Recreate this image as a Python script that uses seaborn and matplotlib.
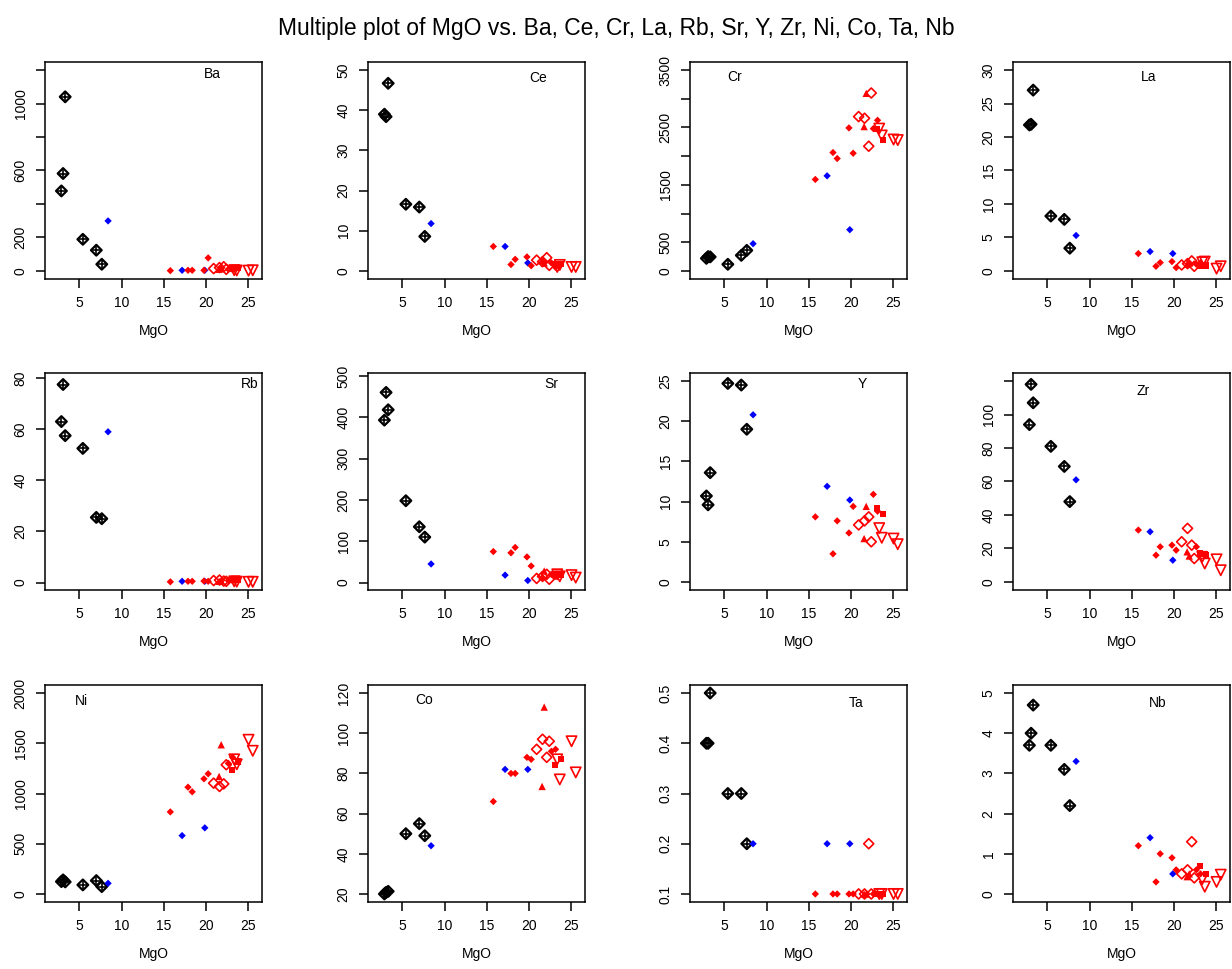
import numpy as np
import pandas as pd
import matplotlib
matplotlib.use("Agg")
import matplotlib.pyplot as plt
import seaborn as sns

# ---- sample groups: MgO (wt%) ----
mgo_black = [2.85, 3.05, 3.3, 5.4, 7.0, 7.65]
mgo_blue = [8.4, 17.2, 19.9]
mgo_red_dia = [15.8, 17.9, 18.4, 19.8, 20.3, 22.7, 23.2]
mgo_red_open = [20.95, 21.65, 22.15, 22.45]
mgo_red_tri = [21.6, 21.85]
mgo_red_sq = [23.1, 23.8]
mgo_red_dtri = [23.4, 23.7, 25.1, 25.6]

# ---- trace elements (ppm), same order as the MgO lists ----
Ba = {
    "black": [478, 582, 1040, 189, 124, 40],
    "blue": [299, 4, 4],
    "red_dia": [2, 4, 4, 4, 78, 10, 8],
    "red_open": [14, 20, 25, 10],
    "red_tri": [10, 20],
    "red_sq": [15, 18],
    "red_dtri": [5, 3, 2, 4],
}
Ce = {
    "black": [39.0, 38.4, 46.7, 16.6, 15.9, 8.6],
    "blue": [11.8, 6.1, 2.0],
    "red_dia": [6.1, 1.6, 2.9, 3.5, 1.3, 2.0, 0.9],
    "red_open": [2.7, 2.3, 3.3, 1.4],
    "red_tri": [2.5, 2.0],
    "red_sq": [1.8, 1.7],
    "red_dtri": [1.0, 1.5, 1.0, 1.0],
}
Cr = {
    "black": [220, 250, 245, 116, 272, 359],
    "blue": [475, 1657, 719],
    "red_dia": [1594, 2063, 1959, 2492, 2051, 2480, 2625],
    "red_open": [2689, 2660, 2173, 3100],
    "red_tri": [2515, 3094],
    "red_sq": [2474, 2283],
    "red_dtri": [2480, 2360, 2290, 2280],
}
La = {
    "black": [21.8, 21.9, 27.0, 8.2, 7.7, 3.4],
    "blue": [5.3, 2.9, 2.6],
    "red_dia": [2.6, 0.7, 1.25, 1.4, 0.5, 1.0, 1.2],
    "red_open": [0.9, 1.1, 1.5, 0.7],
    "red_tri": [1.0, 1.2],
    "red_sq": [0.8, 0.8],
    "red_dtri": [1.3, 1.4, 0.35, 0.7],
}
Rb = {
    "black": [63.0, 77.5, 57.5, 52.5, 25.5, 25.0],
    "blue": [59.0, 0.5, 0.5],
    "red_dia": [0.3, 0.5, 0.5, 0.6, 0.5, 0.8, 0.7],
    "red_open": [0.8, 1.0, 0.6, 0.5],
    "red_tri": [0.5, 0.8],
    "red_sq": [1.2, 1.0],
    "red_dtri": [0.5, 0.4, 0.3, 0.3],
}
Sr = {
    "black": [393, 460, 418, 198, 135, 110],
    "blue": [45, 18, 5],
    "red_dia": [75, 72, 85, 62, 40, 20, 15],
    "red_open": [10, 15, 20, 8],
    "red_tri": [15, 28],
    "red_sq": [20, 18],
    "red_dtri": [20, 15, 18, 12],
}
Y = {
    "black": [10.7, 9.6, 13.6, 24.7, 24.5, 19.0],
    "blue": [20.8, 11.9, 10.2],
    "red_dia": [8.1, 3.5, 7.6, 6.1, 9.4, 10.9, 8.8],
    "red_open": [7.1, 7.6, 8.1, 5.0],
    "red_tri": [5.4, 9.4],
    "red_sq": [9.2, 8.5],
    "red_dtri": [6.7, 5.5, 5.4, 4.7],
}
Zr = {
    "black": [94, 118, 107, 81, 69, 48],
    "blue": [61, 30, 13],
    "red_dia": [31, 16, 21, 22, 19, 21, 17],
    "red_open": [24, 32, 22, 14],
    "red_tri": [18, 15.5],
    "red_sq": [17, 16],
    "red_dtri": [15, 11, 13.5, 7],
}
Ni = {
    "black": [123, 140, 120, 90, 133, 73],
    "blue": [106, 581, 658],
    "red_dia": [817, 1063, 1017, 1146, 1196, 1300, 1362],
    "red_open": [1103, 1070, 1096, 1286],
    "red_tri": [1170, 1485],
    "red_sq": [1236, 1319],
    "red_dtri": [1340, 1290, 1535, 1425],
}
Co = {
    "black": [20.0, 20.8, 21.3, 50.0, 55.0, 49.0],
    "blue": [44, 82, 82],
    "red_dia": [66, 80, 80, 88, 87, 91, 92],
    "red_open": [92, 97, 88, 96],
    "red_tri": [73.5, 113],
    "red_sq": [84, 87],
    "red_dtri": [87, 77, 96, 80.5],
}
Ta = {
    "black": [0.4, 0.4, 0.5, 0.3, 0.3, 0.2],
    "blue": [0.2, 0.2, 0.2],
    "red_dia": [0.1, 0.1, 0.1, 0.1, 0.1, 0.1, 0.1],
    "red_open": [0.1, 0.1, 0.2, 0.1],
    "red_tri": [0.1, 0.1],
    "red_sq": [0.1, 0.1],
    "red_dtri": [0.1, 0.1, 0.1, 0.1],
}
Nb = {
    "black": [3.7, 4.0, 4.7, 3.7, 3.1, 2.2],
    "blue": [3.3, 1.4, 0.5],
    "red_dia": [1.2, 0.3, 1.0, 0.9, 0.6, 0.6, 0.5],
    "red_open": [0.5, 0.6, 1.3, 0.4],
    "red_tri": [0.43, 0.5],
    "red_sq": [0.7, 0.5],
    "red_dtri": [0.37, 0.18, 0.3, 0.48],
}

elements = ["Ba", "Ce", "Cr", "La", "Rb", "Sr", "Y", "Zr", "Ni", "Co", "Ta", "Nb"]
element_data = dict(Ba=Ba, Ce=Ce, Cr=Cr, La=La, Rb=Rb, Sr=Sr,
                    Y=Y, Zr=Zr, Ni=Ni, Co=Co, Ta=Ta, Nb=Nb)
group_mgo = {
    "black": mgo_black, "blue": mgo_blue, "red_dia": mgo_red_dia,
    "red_open": mgo_red_open, "red_tri": mgo_red_tri,
    "red_sq": mgo_red_sq, "red_dtri": mgo_red_dtri,
}

# long table: one row per sample
rows = []
for g, mg in group_mgo.items():
    for i, m in enumerate(mg):
        r = {"group": g, "MgO": m}
        for el in elements:
            r[el] = element_data[el][g][i]
        rows.append(r)
df = pd.DataFrame(rows)

# ---- per-panel axis settings: (ylim, ticks, labelled ticks, label position) ----
panel_cfg = {
    "Ba": ((-48, 1248), np.arange(0, 1201, 200), [0, 200, 600, 1000], (0.77, 0.945)),
    "Ce": ((-2, 52), np.arange(0, 51, 10), None, (0.785, 0.925)),
    "Cr": ((-140, 3640), np.arange(0, 3501, 500), [0, 500, 1500, 2500, 3500], (0.206, 0.932)),
    "La": ((-1.2, 31.2), np.arange(0, 31, 5), None, (0.627, 0.93)),
    "Rb": ((-2.9, 82), np.arange(0, 81, 20), None, (0.945, 0.95)),
    "Sr": ((-18, 507), np.arange(0, 501, 100), None, (0.847, 0.95)),
    "Y": ((-1, 26), np.arange(0, 26, 5), None, (0.795, 0.948)),
    "Zr": ((-4.8, 124.8), np.arange(0, 121, 20), [0, 20, 40, 60, 80, 100], (0.598, 0.915)),
    "Ni": ((-80, 2080), np.arange(0, 2001, 500), None, (0.166, 0.928)),
    "Co": ((16, 124), np.arange(20, 121, 20), None, (0.259, 0.931)),
    "Ta": ((0.084, 0.516), np.round(np.arange(0.1, 0.51, 0.1), 1), None, (0.765, 0.918)),
    "Nb": ((-0.2, 5.2), np.arange(0, 6, 1), None, (0.667, 0.916)),
}

RED = "#FF0000"
BLUE = "#0000FF"
styles = [
    ("black", dict(marker="D", s=30, facecolor="none", edgecolor="black", linewidth=1.6)),
    ("black", dict(marker="+", s=58, color="black", linewidth=1.2)),
    ("blue", dict(marker="D", s=14, color=BLUE, edgecolor="none", linewidth=0)),
    ("red_dia", dict(marker="D", s=14, color=RED, edgecolor="none", linewidth=0)),
    ("red_open", dict(marker="D", s=26, facecolor="none", edgecolor=RED, linewidth=1.2)),
    ("red_tri", dict(marker="^", s=28, color=RED, edgecolor="none", linewidth=0)),
    ("red_sq", dict(marker="s", s=20, color=RED, edgecolor="none", linewidth=0)),
    ("red_dtri", dict(marker="v", s=55, facecolor="none", edgecolor=RED, linewidth=1.2)),
]

sns.set_style("ticks")
plt.rcParams["font.family"] = ["Liberation Sans", "DejaVu Sans"]
plt.rcParams["text.color"] = "black"
plt.rcParams["axes.labelcolor"] = "black"

W, H = 1232, 969
fig = plt.figure(figsize=(W / 100, H / 100), dpi=100)

col_left = [45, 368, 690, 1013]
row_top = [62, 373, 685]
box = 217

for k, el in enumerate(elements):
    r, c = divmod(k, 4)
    ax = fig.add_axes([col_left[c] / W, 1 - (row_top[r] + box) / H, box / W, box / H])
    for g, kw in styles:
        sns.scatterplot(data=df[df["group"] == g], x="MgO", y=el, ax=ax,
                        legend=False, zorder=3, clip_on=False, **kw)
    ylim, ticks, labelled, (lx, ly) = panel_cfg[el]
    ax.set_xlim(0.9, 26.7)
    ax.set_ylim(*ylim)
    ax.set_xticks([5, 10, 15, 20, 25])
    ax.set_yticks(ticks)
    if labelled is None:
        labelled = list(ticks)
    labs = []
    for t in ticks:
        if any(np.isclose(t, l) for l in labelled):
            labs.append(f"{t:g}")
        else:
            labs.append("")
    ax.set_yticklabels(labs, rotation=90, va="center")
    for sp in ax.spines.values():
        sp.set_visible(True)
        sp.set_linewidth(1.1)
        sp.set_color("black")
    ax.tick_params(axis="both", direction="out", length=6.5, width=1.1,
                   labelsize=10, colors="black")
    ax.tick_params(axis="x", pad=6)
    ax.tick_params(axis="y", pad=6)
    ax.set_xlabel("MgO", fontsize=10, va="center", color="black")
    ax.xaxis.set_label_coords(0.5, -0.24)
    ax.set_ylabel("")
    ax.text(lx, ly, el, transform=ax.transAxes, ha="center", va="center",
            fontsize=10, color="black")

fig.suptitle("Multiple plot of MgO vs. Ba, Ce, Cr, La, Rb, Sr, Y, Zr, Ni, Co, Ta, Nb",
             x=0.5, y=1 - 28 / H, va="center", fontsize=16.5, color="black")

fig.savefig("out.png", dpi=100, facecolor="white")
